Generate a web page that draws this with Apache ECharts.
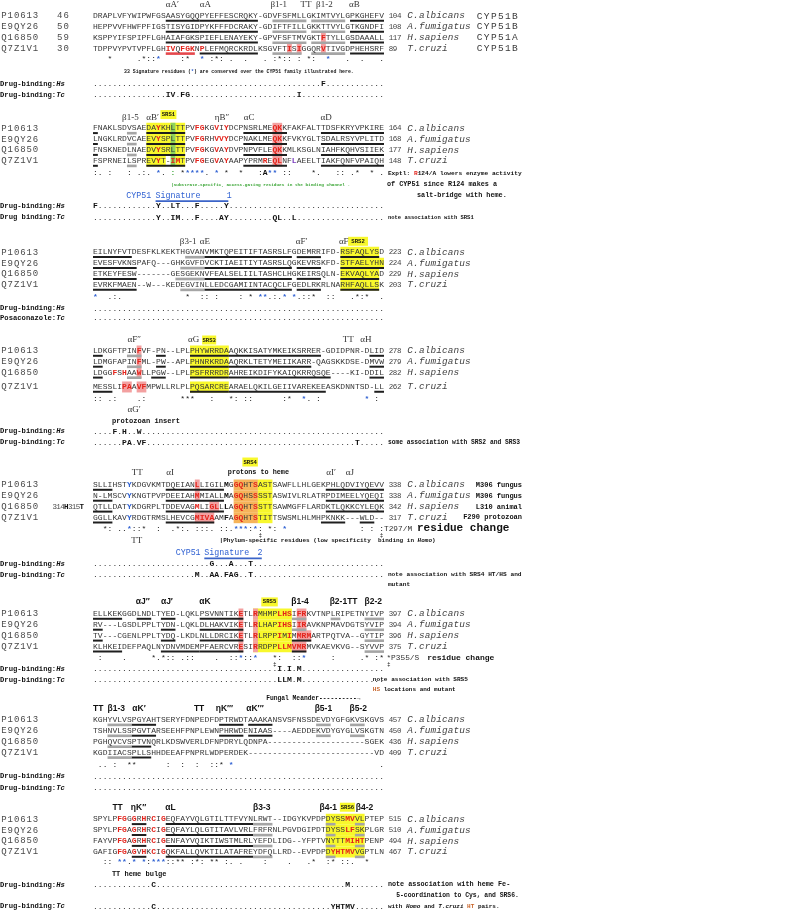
<!DOCTYPE html>
<html>
<head>
<meta charset="utf-8">
<script src="https://cdn.jsdelivr.net/npm/echarts@6/dist/echarts.min.js"></script>
<style>
  html, body { margin: 0; padding: 0; background: #fff; }
  #chart { width: 789px; height: 911px; }
</style>
</head>
<body>
<div id="chart"></div>
<script>
// ---------- data ----------
const seqIds = ['P10613', 'E9QY26', 'Q16850', 'Q7Z1V1'];
const seqStart = ['46', '50', '59', '30'];
const species = ['C.albicans', 'A.fumigatus', 'H.sapiens', 'T.cruzi'];
const cypForms = ['CYP51B', 'CYP51B', 'CYP51A', 'CYP51B'];
const fungusTags = ['M306 fungus', 'M306 fungus', 'L310 animal', 'F290 protozoan'];

const alignment = [
  ['DRAPLVFYWIPWFGSAASYGQQPYEFFESCRQKY-GDVFSFMLLGKIMTVYLGPKGHEFV',
   'HEPPVVFHWFPFIGSTISYGIDPYKFFFDCRAKY-GDIFTFILLGKKTTVYLGTKGNDFI',
   'KSPPYIFSPIPFLGHAIAFGKSPIEFLENAYEKY-GPVFSFTMVGKTFTYLLGSDAAALL',
   'TDPPVYPVTVPFLGHIVQFGKNPLEFMQRCKRDLKSGVFTISIGGQRVTIVGDPHEHSRF'],
  ['FNAKLSDVSAEDAYKHLTTPVFGKGVIYDCPNSRLMEQKKFAKFALTTDSFKRYVPKIRE',
   'LNGKLRDVCAEEVYSPLTTPVFGRHVVYDCPNAKLMEQKKFVKYGLTSDALRSYVPLITD',
   'FNSKNEDLNAEDVYSRLTTPVFGKGVAYDVPNPVFLEQKKMLKSGLNIAHFKQHVSIIEK',
   'FSPRNEILSPREVYT-IMTPVFGEGVAYAAPYPRMREQLNFLAEELTIAKFQNFVPAIQH'],
  ['EILNYFVTDESFKLKEKTHGVANVMKTQPEITIFTASRSLFGDEMRRIFD-RSFAQLYSD',
   'EVESFVKNSPAFQ---GHKGVFDVCKTIAEITIYTASRSLQGKEVRSKFD-STFAELYHN',
   'ETKEYFESW-------GESGEKNVFEALSELIILTASHCLHGKEIRSQLN-EKVAQLYAD',
   'EVRKFMAEN--W---KEDEGVINLLEDCGAMIINTACQCLFGEDLRKRLNARHFAQLLSK'],
  ['LDKGFTPINFVF-PN--LPLPHYWRRDAAQKKISATYMKEIKSRRER-GDIDPNR-DLID',
   'LDMGFAPINFML-PW--APLPHNRKRDAAQRKLTETYMEIIKARR-QAGSKKDSE-DMVW',
   'LDGGFSHAAWLLPGW--LPLPSFRRRDRAHREIKDIFYKAIQKRRQSQE----KI-DDIL',
   'MESSLIPAAVFMPWLLRLPLPQSARCREARAELQKILGEIIVAREKEEASKDNNTSD-LL'],
  ['SLLIHSTYKDGVKMTDQEIANLLIGILMGGQHTSASTSAWFLLHLGEKPHLQDVIYQEVV',
   'N-LMSCVYKNGTPVPDEEIAHMMIALLMAGQHSSSSTASWIVLRLATRPDIMEELYQEQI',
   'QTLLDATYKDGRPLTDDEVAGMLIGLLLAGQHTSSTTSAWMGFFLARDKTLQKKCYLEQK',
   'GGLLKAVYRDGTRMSLHEVCGMIVAAMFAGQHTSTITTSWSMLHLMHPKNKK---WLD--'],
  ['ELLKEKGGDLNDLTYED-LQKLPSVNNTIKETLRMHMPLHSIFRKVTNPLRIPETNYIVP',
   'RV---LGSDLPPLTYDN-LQKLDLHAKVIKETLRLHAPIHSIIRAVKNPMAVDGTSYVIP',
   'TV---CGENLPPLTYDQ-LKDLNLLDRCIKETLRLRPPIMIMMRMARTPQTVA--GYTIP',
   'KLHKEIDEFPAQLNYDNVMDEMPFAERCVRESIRRDPPLLMVMRMVKAEVKVG--SYVVP'],
  ['KGHYVLVSPGYAHTSERYFDNPEDFDPTRWDTAAAKANSVSFNSSDEVDYGFGKVSKGVS',
   'TSHNVLSSPGVTARSEEHFPNPLEWNPHRWDENIAAS----AEDDEKVDYGYGLVSKGTN',
   'PGHQVCVSPTVNQRLKDSWVERLDFNPDRYLQDNPA--------------------SGEK',
   'KGDIIACSPLLSHHDEEAFPNPRLWDPERDEK--------------------------VD'],
  ['SPYLPFGGGRHRCIGEQFAYVQLGTILTTFVYNLRWT--IDGYKVPDPDYSSMVVLPTEP',
   'SPYLPFGAGRHRCIGEQFAYLQLGTITAVLVRLFRFRNLPGVDGIPDTDYSSLFSKPLGR',
   'FAYVPFGAGRHRCIGENFAYVQIKTIWSTMLRLYEFDLIDG--YFPTVNYTTMIHTPENP',
   'GAFIGFGAGVHKCIGQKFALLQVKTILATAFREYDFQLLRD--EVPDPDYHTMVVGPTLN']
];

const endNums = [
  [104, 108, 117, 89], [164, 168, 177, 148], [223, 224, 229, 203], [278, 279, 282, 262],
  [338, 338, 342, 317], [397, 394, 396, 375], [457, 450, 436, 409], [515, 510, 494, 467]
];

// clustal conservation row: "column + symbol"
const consMarks = [
  '3* 9. 10* 11: 12: 13* 18: 19* 22* 24: 25* 26: 28. 31. 35. 37: 38* 39: 40: 42: 44* 45: 48* 52. 55. 59.',
  '0: 1. 3: 7: 9. 10: 11. 13* 14. 16: 18* 19* 20* 21* 22* 23. 25* 27* 30* 34: 35A 36* 37* 39: 40: 45* 46. 50: 51: 53. 54* 57* 59.',
  '0* 3. 4: 5. 19* 22: 23: 25: 30: 32* 34* 35* 36. 37: 38. 39* 41* 42. 43: 44: 45* 48: 49: 53. 54* 55: 56* 59.',
  '0: 1: 3. 4: 9. 10: 18* 19* 20* 24: 28* 29: 31: 32: 39: 40* 43* 44. 46: 56* 58:',
  '2* 3: 5. 6. 7* 8: 9: 10* 13: 16. 17* 18: 19. 21: 22: 23: 24. 26: 27: 28. 29* 30* 31* 32: 33* 34: 36* 37: 39* 55: 57: 59:',
  '1: 6. 12* 13. 14* 15: 16: 18. 19: 20: 25. 28: 29: 30* 31: 32: 33* 37* 38: 41: 42: 43* 49: 55. 56* 58: 59*',
  '1. 2. 4: 7* 8* 15: 18: 21: 24: 25: 26* 28* 59.',
  '2: 3: 5* 6* 7. 8* 10* 11: 12* 13* 14* 15: 16: 17* 18* 20: 21* 22: 24* 25* 27: 28. 30. 35: 40. 44. 45* 48: 49* 51: 52: 53. 56*'
];
const consBlue = [
  [13, 22, 48], [13, 19, 20, 21, 22, 25, 36, 37], [0, 34, 35, 39, 41], [43, 56],
  [7, 29, 30, 31, 33, 39], [30, 33, 43], [28], [5, 6, 8, 10, 12, 13, 14]
];

// drug-binding rows: "column:residues"
const drugHs = ['47:F', '0:F 13:Y 16:LT 21:F 27:Y', '', '4:F 6:H 9:W', '24:G 28:A 32:T', '38:I 40:I 42:M', '', '12:C 52:M'];
const drugTc = ['15:IV 18:FG 42:I', '13:Y 16:IM 21:F 26:AY 37:QL 41:L', '', '6:PA 9:VF 54:T',
                '21:M 24:AA 27:FAG 32:T', '38:LLM 42:M', '', '12:C 49:YHTMV'];
const tcLabels = ['Drug-binding:', 'Drug binding:', 'Posaconazole:', 'Drug-binding:',
                  'Drug-binding:', 'Drug-binding:', 'Drug-binding:', 'Drug-binding:'];

// secondary structure labels: [label, alignment column]
const ssLabels = [
  [['αA′', 15], ['αA', 22], ['β1-1', 36.6], ['TT', 42.8], ['β1-2', 46], ['αB', 52.8]],
  [['β1-5', 6], ['αB′', 11], ['ηB″', 25.1], ['αC', 31.1], ['αD', 46.9]],
  [['β3-1', 17.9], ['αE', 22], ['αF′', 41.8], ['αF', 50.7]],
  [['αF′′', 7.1], ['αG', 19.6], ['TT', 51.5], ['αH', 55.1]],
  [['TT', 8], ['αI', 15.1], ['αI′', 48.1], ['αJ', 52.1]],
  [['αJ′′', 8.8], ['αJ′', 14], ['αK', 21.9], ['β1-4', 40.9], ['β2-1TT', 48.8], ['β2-2', 56]],
  [['TT', 0], ['β1-3', 3], ['αK′', 8.1], ['TT', 20.8], ['ηK′′′', 25.3], ['αK′′′', 31.6], ['β5-1', 45.7], ['β5-2', 52.9]],
  [['TT', 4], ['ηK′′', 7.8], ['αL', 14.9], ['β3-3', 33], ['β4-1', 46.7], ['β4-2', 54.2]]
];
// substrate recognition sites: [block, name, first column, last column]
const srsSites = [[1, 'SRS1', 13.9, 17.2], [2, 'SRS2', 52.6, 56.7], [3, 'SRS3', 22.5, 25.4],
                  [4, 'SRS4', 30.8, 34], [5, 'SRS5', 34.7, 38.1], [7, 'SRS6', 50.9, 54]];

// residue markup per block: [kind, rows, first col, last col]
const blockMarks = [
  [['ul', '012', 15, 21], ['ulr', '3', 15, 20], ['ul', '0123', 22, 33], ['ulg', '012', 37, 43], ['ulg', '3', 37, 42],
   ['ulg', '0123', 45, 51], ['ul', '0123', 53, 59],
   ['pink', '23', 47, 47], ['pink', '3', 40, 40], ['pink', '3', 42, 42],
   ['red', '3', 15, 16], ['red', '3', 18, 20], ['red', '3', 22, 22], ['red', '3', 40, 40], ['red', '3', 42, 42], ['red', '23', 47, 47]],
  [['ul', '0123', 0, 0], ['ulg', '0123', 7, 8], ['yellow', '012', 11, 18], ['yellow', '3', 11, 14], ['yellow', '3', 17, 18],
   ['green', '0123', 16, 16], ['ul', '0123', 11, 18], ['pink', '0123', 37, 38], ['ul', '0123', 31, 39], ['ul', '0123', 47, 59],
   ['red', '0123', 13, 13], ['red', '0123', 21, 22], ['red', '0123', 25, 25], ['red', '1', 26, 26], ['red', '0123', 27, 27],
   ['red', '012', 37, 38], ['red', '3', 16, 17], ['red', '3', 35, 35], ['red', '3', 37, 38], ['purple', '3', 41, 41]],
  [['ul', '0', 0, 7], ['ul', '123', 0, 8], ['ulg', '0', 19, 22], ['ulg', '1', 18, 22], ['ulg', '2', 17, 22], ['ulg', '3', 18, 22],
   ['ul', '0123', 23, 40], ['ul', '0123', 42, 46],
   ['yellow', '023', 51, 58], ['yellow', '1', 51, 59], ['ul', '023', 51, 58], ['ul', '1', 51, 59]],
  [['ul', '012', 0, 1], ['ul', '3', 0, 3], ['ulg', '012', 7, 9],
   ['pink', '012', 9, 9], ['pink', '3', 6, 7], ['pink', '3', 9, 10],
   ['red', '01', 9, 9], ['red', '2', 4, 4], ['red', '2', 6, 6], ['red', '2', 9, 9], ['red', '3', 6, 7], ['red', '3', 9, 10],
   ['ul', '01', 13, 14], ['ul', '2', 12, 14], ['yellow', '0123', 20, 27], ['ul', '0123', 20, 27],
   ['ul', '0', 28, 46], ['ul', '1', 28, 44], ['ul', '2', 28, 48], ['ul', '3', 28, 47], ['ul', '012', 57, 59], ['ul', '3', 58, 59]],
  [['blue', '0123', 7, 7], ['ul', '0123', 0, 3], ['ul', '012', 15, 26], ['ul', '3', 15, 24],
   ['pink', '01', 21, 21], ['pink', '2', 24, 25], ['pink', '3', 21, 24],
   ['red', '012', 21, 21], ['red', '2', 24, 25], ['red', '3', 21, 24], ['bold', '0123', 27, 27],
   ['orange', '0123', 29, 33], ['yellow', '0123', 34, 36], ['red', '0123', 29, 30], ['red', '0123', 33, 33],
   ['ul', '012', 48, 59], ['ul', '3', 47, 51], ['ul', '3', 55, 57]],
  [['ul', '03', 0, 5], ['ul', '12', 0, 1], ['ul', '0', 9, 11], ['ul', '012', 14, 16], ['ul', '3', 14, 21], ['ul', '0123', 22, 30],
   ['pink', '0123', 30, 30], ['yellow', '0123', 33, 40], ['pink', '0123', 33, 33],
   ['pink', '01', 42, 43], ['pink', '2', 42, 44], ['pink', '3', 41, 43],
   ['ulg', '01', 41, 43], ['ul', '2', 41, 44], ['ul', '3', 41, 43], ['ulg', '0123', 56, 59], ['ulg', '0', 49, 50],
   ['red', '0123', 30, 30], ['red', '0123', 33, 33], ['red', '013', 38, 40], ['red', '2', 38, 38], ['red', '2', 40, 40],
   ['red', '01', 42, 43], ['red', '2', 42, 44], ['red', '3', 41, 43]],
  [['ulg', '0123', 3, 7], ['ul', '01', 8, 12], ['ul', '23', 8, 11], ['ul', '01', 26, 30], ['ul', '01', 32, 36],
   ['ulg', '01', 46, 48], ['ulg', '01', 53, 55]],
  [['ul', '0123', 8, 10], ['ul', '0123', 15, 32], ['ulg', '0123', 33, 36], ['yellow', '0123', 48, 55],
   ['ulg', '0123', 48, 49], ['ulg', '0123', 54, 55],
   ['red', '0123', 5, 6], ['red', '0123', 8, 8], ['red', '0123', 10, 10], ['red', '0123', 12, 12], ['red', '0123', 14, 14],
   ['red', '01', 52, 53], ['red', '2', 52, 55], ['red', '3', 49, 53]]
];

// ---------- layout ----------
const X0 = 93, PX_COL = 4.85, PX_ROW = 10.9;
const blockRow = [16, 128.3, 252.3, 351, 485, 614, 720, 819.3].map(y => y / PX_ROW);
const seqOff = [[0, 1, 2, 3], [0, 1, 2, 3], [0, 1, 2, 3], [0, 1, 2, 3.3],
                [0, 1, 2, 3], [0, 1, 2, 3], [0, 1, 2, 3], [0, 1, 2, 3]];
const lineOff = [
  { head: -1, cons: 3.95, hs: 6.25, tc: 7.25 },
  { head: -0.95, cons: 4.1, hs: 7.15, tc: 8.2 },
  { head: -1, cons: 4.1, hs: 5.15, tc: 6.05 },
  { head: -1, cons: 4.4, hs: 7.4, tc: 8.4 },
  { head: -1.15, cons: 4, hs: 7.25, tc: 8.25 },
  { head: -1.1, cons: 4.05, hs: 5.05, tc: 6.05 },
  { head: -1, cons: 4.1, hs: 5.2, tc: 6.25 },
  { head: -1.1, cons: 3.95, hs: 6, tc: 8 }
];

const MONO = '"Liberation Mono", "DejaVu Sans Mono", monospace';
const SERIF = '"Liberation Serif", "DejaVu Serif", serif';
const SANS = '"Liberation Sans", "DejaVu Sans", sans-serif';
const RED = '#e3231b', BLUE = '#2d5fd2', ORANGE = '#c8642a', GREEN = '#3aa535';

const charStyles = {
  seq: { weight: 'normal', color: '#363636' },
  red: { weight: 'bold', color: RED },
  blue: { weight: 'bold', color: BLUE },
  purple: { weight: 'bold', color: '#7a3bbf' },
  bold: { weight: 'bold', color: '#111' }
};
const RECT_KINDS = ['yellow', 'green', 'pink', 'orange', 'box', 'ul', 'ulg', 'ulr', 'ulb'];
const rectSpecs = {
  yellow: { fill: '#f8f82c', dy: -5.5, h: 11 },
  green: { fill: '#8fd35b', dy: -5.5, h: 11 },
  pink: { fill: '#f3a0a0', dy: -5.5, h: 11 },
  orange: { fill: '#f6b45a', dy: -5.5, h: 11 },
  box: { fill: '#f8f82c', dy: -4.6, h: 9 },
  ul: { fill: '#1e1e1e', dy: 3.8, h: 2 },
  ulg: { fill: '#a5a5a5', dy: 3.6, h: 2.6 },
  ulr: { fill: '#e5484d', dy: 3.6, h: 2.6 },
  ulb: { fill: '#3b64c8', dy: 5, h: 1.6 }
};

// ---------- build text runs and rectangles ----------
const runs = [];
const bgItems = [];
const ulItems = [];

function mono(col, row, text, o) {
  runs.push(Object.assign({ col, row, text, mono: true, adv: 1, size: 8, weight: 'normal', style: 'normal',
    color: '#363636', family: MONO }, o));
}
function plain(col, row, text, o) {
  runs.push(Object.assign({ col, row, text, mono: false, size: 8, weight: 'normal', style: 'normal',
    color: '#333', family: MONO, align: 'left' }, o));
}
function note(col, row, parts, size, base) {
  let c = col;
  parts.forEach(p => {
    const [t, o] = typeof p === 'string' ? [p, {}] : p;
    plain(c, row, t, Object.assign({ size, weight: 'bold', color: '#111' }, base || {}, o));
    c += t.length * size * 0.6 / PX_COL;
  });
}
function rect(c0, c1, row, kind) {
  const item = [c0, c1, row, RECT_KINDS.indexOf(kind)];
  (kind.startsWith('ul') ? ulItems : bgItems).push(item);
}
function parseSpec(spec) {
  return spec.split(' ').filter(Boolean).map(t => {
    const m = t.match(/^(\d+):?(.+)$/);
    return [Number(m[1]), m[2]];
  });
}
function drugRow(row, label, spec) {
  note(-19.17, row, [label[0], [label[1], { style: 'italic' }]], 7.2);
  const line = Array(60).fill('.');
  parseSpec(spec).forEach(([c, s]) => { for (let i = 0; i < s.length; i++) line[c + i] = s[i]; });
  line.forEach((ch, c) => mono(c, row, ch, ch === '.'
    ? { color: '#333' } : { weight: 'bold', color: '#111' }));
}

alignment.forEach((rows, b) => {
  const top = blockRow[b], off = lineOff[b];

  // residue styles and highlight rectangles
  const grid = rows.map(s => Array(s.length).fill('seq'));
  blockMarks[b].forEach(([kind, rs, c0, c1]) => {
    for (const r of rs) {
      const row = top + seqOff[b][+r];
      if (charStyles[kind]) {
        for (let c = c0; c <= c1; c++) grid[+r][c] = kind;
      } else {
        rect(c0, c1 + 1, row, kind);
      }
    }
  });

  rows.forEach((seq, i) => {
    const row = top + seqOff[b][i];
    mono(-19, row, seqIds[i], { adv: 1.3, size: 9, color: '#4a4a4a' });
    let start = 0;
    for (let c = 1; c <= seq.length; c++) {
      if (c === seq.length || grid[i][c] !== grid[i][start]) {
        const st = charStyles[grid[i][start]];
        mono(start, row, seq.slice(start, c), { weight: st.weight, color: st.color });
        start = c;
      }
    }
    mono(61, row, String(endNums[b][i]), { adv: 0.85, size: 7.5, color: '#444' });
    mono(64.8, row, species[i], { adv: 1.19, size: 9.4, style: 'italic', color: '#444' });
    if (b === 0) {
      mono(-7.5, row, seqStart[i], { adv: 1.3, size: 9, color: '#4a4a4a' });
      mono(79, row, cypForms[i], { adv: 1.45, size: 9.5, color: '#3a3a3a' });
    }
    if (b === 4) {
      plain(88.45, row, fungusTags[i], { size: 7, weight: 'bold', color: '#111', align: 'right' });
    }
    if (b === 4 && i === 2) {
      // residue numbers written in the start column for Q16850
      mono(-8.3, row, '314', { adv: 0.8, size: 7.5, color: '#4a4a4a' });
      mono(-5.9, row, 'H', { adv: 0.8, size: 7.5, weight: 'bold', color: '#111' });
      mono(-5.1, row, '315', { adv: 0.8, size: 7.5, color: '#4a4a4a' });
      mono(-2.7, row, 'T', { adv: 0.8, size: 7.5, weight: 'bold', color: '#111' });
    }
  });

  // structure labels
  const bold = b >= 5;
  ssLabels[b].forEach(([t, c]) => plain(c, top + off.head, t, bold
    ? { family: SANS, size: 8.5, weight: 'bold', color: '#111' }
    : { family: SERIF, size: 9, color: '#333' }));

  // conservation row
  const blue = consBlue[b];
  parseSpec(consMarks[b]).forEach(([c, s]) => {
    let o = { color: '#222' };
    if (blue.includes(c)) o = { color: BLUE, weight: 'bold' };
    if (b === 1 && c === 16) o = { color: GREEN, weight: 'bold' };
    if (s === 'A') o = { color: '#111', weight: 'bold' };
    mono(c, top + off.cons, s, o);
  });

  drugRow(top + off.hs, ['Drug-binding:', 'Hs'], drugHs[b]);
  drugRow(top + off.tc, [tcLabels[b], 'Tc'], drugTc[b]);
});

srsSites.forEach(([b, name, c0, c1]) => {
  const row = blockRow[b] + (b === 4 ? -2.1 : lineOff[b].head - (b === 1 ? 0.3 : 0));
  rect(c0, c1, row, 'box');
  plain((c0 + c1) / 2, row, name, { size: 5.6, weight: 'bold', color: '#111', align: 'center' });
});

// annotations
const it = { style: 'italic' };
let t = blockRow[0];
note(6.4, t + 5.15, ['33 Signature residues (', ['*', { color: BLUE }], ') are conserved over the CYP51 family illustrated here.'], 4.85);

t = blockRow[1];
note(60.8, t + 4.1, ['Exptl: ', ['R', { color: RED }], '124/A lowers enzyme activity'], 6.2);
note(16.1, t + 5.15, ['|Substrate-specific, access-gating residues in the binding channel .'], 4.4, { color: GREEN });
note(60.6, t + 5.15, ['of CYP51 since R124 makes a'], 6.8);
note(66.8, t + 6.15, ['salt-bridge with heme.'], 6.8);
plain(6.85, t + 6.15, 'CYP51', { size: 8.3, color: BLUE });
plain(12.9, t + 6.15, 'Signature', { size: 8.3, color: BLUE });
plain(27.6, t + 6.15, '1', { size: 8.3, color: BLUE });
rect(12.9, 27.9, t + 6.15, 'ulb');
note(60.8, t + 8.2, ['note association with SRS1'], 5.5);

t = blockRow[3];
plain(7.1, t + 5.4, 'αG′', { family: SERIF, size: 9, color: '#333' });
note(3.9, t + 6.4, ['protozoan insert'], 7.1);
note(60.8, t + 8.4, ['some association with SRS2 and SRS3'], 6.3);

t = blockRow[4];
note(27.8, t - 1.15, ['protons to heme'], 6.8);
plain(60, t + 4, 'T297/M', { size: 7.8 });
note(66.8, t + 4, ['residue change'], 11);
mono(34, t + 4.6, '‡', { size: 6, color: '#222' });
mono(59, t + 4.6, '‡', { size: 6, color: '#222' });
plain(7.9, t + 5.1, 'TT', { family: SERIF, size: 9, color: '#333' });
note(26.1, t + 5.1, ['|Phylum-specific residues (low specificity  binding in ', ['Homo', it], ')'], 6);
plain(17.05, t + 6.2, 'CYP51', { size: 8.3, color: BLUE });
plain(22.95, t + 6.2, 'Signature', { size: 8.3, color: BLUE });
plain(33.9, t + 6.2, '2', { size: 8.3, color: BLUE });
rect(22.95, 34.8, t + 6.2, 'ulb');
note(60.8, t + 8.25, ['note association with SRS4 HT/HS and'], 6.2);
note(60.8, t + 9.1, ['mutant'], 6.2);

t = blockRow[5];
plain(60.5, t + 4.05, '*P355/S', { size: 7.8 });
note(68.9, t + 4.05, ['residue change'], 8);
mono(37, t + 4.6, '‡', { size: 6, color: '#222' });
mono(60.5, t + 4.6, '‡', { size: 6, color: '#222' });
note(57.7, t + 6.05, ['note association with SRS5'], 6.1);
note(57.7, t + 6.95, [['HS', { color: ORANGE }], ' locations and mutant'], 6);

t = blockRow[6];
note(35.7, t - 1.95, ['Fungal Meander----------→'], 6.3);

t = blockRow[7];
note(3.9, t + 5, ['TT heme bulge'], 7);
note(60.8, t + 6, ['note association with heme Fe-'], 6.8);
note(62.5, t + 7, ['5-coordination to Cys, and SRS6.'], 6.4);
note(60.8, t + 8, ['with ', ['Homo', it], ' and ', ['T.cruzi', it], ' ', ['HT', { color: ORANGE }], ' pairs.'], 6);

// ---------- chart ----------
function fontOf(r) {
  return `${r.style} ${r.weight} ${r.size}px ${r.family}`;
}
function renderRun(params, api) {
  const r = runs[api.value(2)];
  if (!r.mono) {
    const p = api.coord([r.col, r.row]);
    return {
      type: 'text', x: p[0], y: p[1],
      style: { text: r.text, font: fontOf(r), fill: r.color,
        align: r.align, verticalAlign: 'middle', textAlign: r.align, textVerticalAlign: 'middle' }
    };
  }
  const children = [];
  for (let i = 0; i < r.text.length; i++) {
    const ch = r.text[i];
    if (ch === ' ') continue;
    const p = api.coord([r.col + (i + 0.5) * r.adv, r.row]);
    children.push({
      type: 'text', x: p[0], y: p[1],
      style: { text: ch, font: fontOf(r), fill: r.color,
        align: 'center', verticalAlign: 'middle', textAlign: 'center', textVerticalAlign: 'middle' }
    });
  }
  return { type: 'group', children };
}
function renderRect(params, api) {
  const spec = rectSpecs[RECT_KINDS[api.value(3)]];
  const a = api.coord([api.value(0), api.value(2)]);
  const b = api.coord([api.value(1), api.value(2)]);
  return {
    type: 'rect',
    shape: { x: a[0], y: a[1] + spec.dy, width: b[0] - a[0], height: spec.h },
    style: { fill: spec.fill }
  };
}

const chart = echarts.init(document.getElementById('chart'));
chart.setOption({
  animation: false,
  backgroundColor: '#fff',
  grid: { left: 0, right: 0, top: 0, bottom: 0 },
  xAxis: { type: 'value', min: -X0 / PX_COL, max: (789 - X0) / PX_COL, show: false },
  yAxis: { type: 'value', min: 0, max: 911 / PX_ROW, inverse: true, show: false },
  series: [
    { type: 'custom', renderItem: renderRect, data: bgItems, encode: { x: [0, 1], y: 2 }, silent: true, z: 1 },
    { type: 'custom', renderItem: renderRect, data: ulItems, encode: { x: [0, 1], y: 2 }, silent: true, z: 2 },
    { type: 'custom', renderItem: renderRun, data: runs.map((r, i) => [r.col, r.row, i]), silent: true, z: 3 }
  ]
});
</script>
</body>
</html>
